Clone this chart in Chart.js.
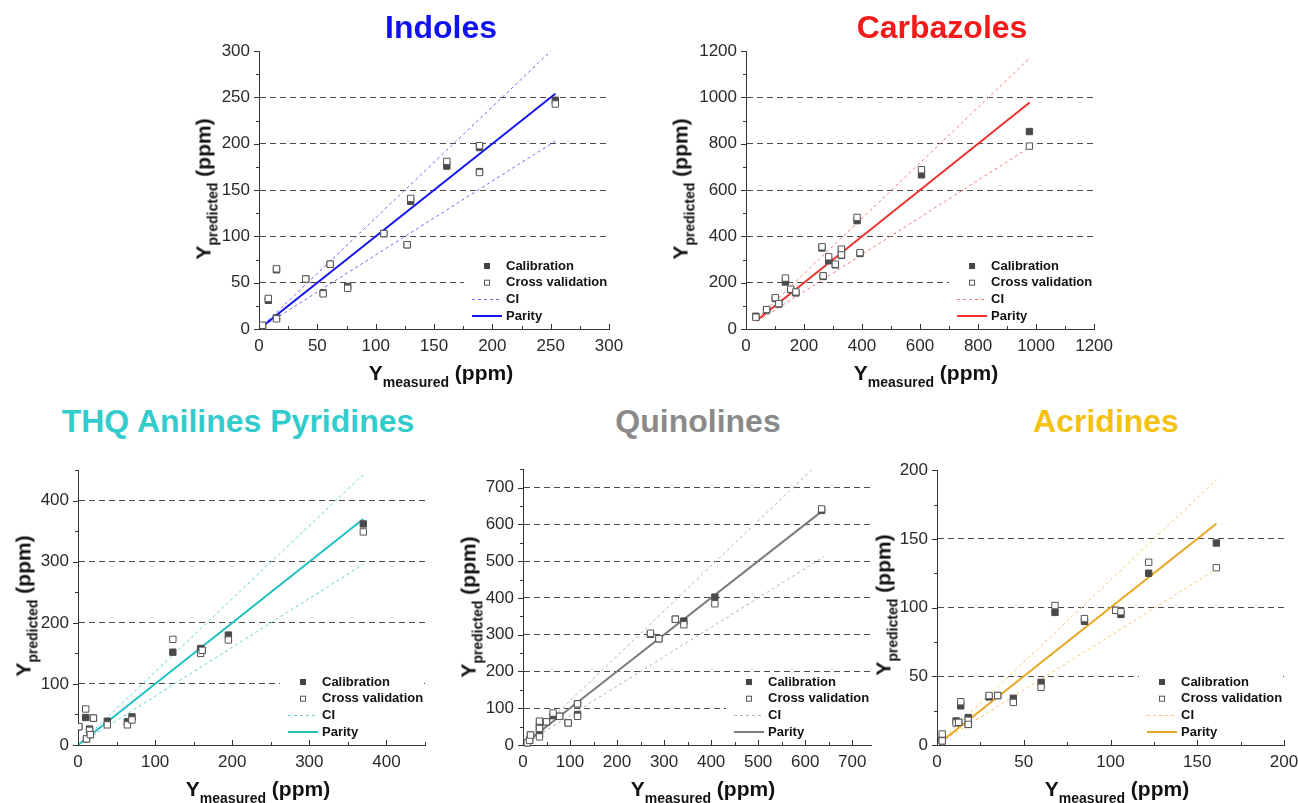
<!DOCTYPE html>
<html lang="en">
<head>
<meta charset="UTF-8" />
<title>Calibration vs cross validation</title>
<script src="https://cdn.jsdelivr.net/npm/chart.js"></script>
<style>
  html, body {
    margin: 0;
    padding: 0;
    width: 1298px;
    height: 803px;
    overflow: hidden;
    background: #fff;
    font-family: "Liberation Sans", Arial, sans-serif;
  }
  canvas { position: absolute; }
  .title {
    position: absolute;
    font-size: 32px;
    font-weight: bold;
    line-height: 1;
    white-space: nowrap;
    transform: translateX(-50%);
  }
  .axt {
    position: absolute;
    font-size: 21px;
    font-weight: bold;
    line-height: 1;
    white-space: nowrap;
    color: #111;
  }
  .axt .sub { font-size: 14px; position: relative; top: 7px; }
  .xt { transform: translateX(-50%); }
  .yt { transform: translate(-50%, -50%) rotate(-90deg); }
</style>
</head>
<body>

<script>
// ---- Indoles ----
const indolesMeasured = [3, 8, 15, 15, 40, 55, 61, 76, 107, 127, 130, 161, 189, 189, 254];
const indolesCalibration = [3, 31, 64, 12, 54, 39, 70, 46, 103, 91, 138, 176, 196, 170, 247];
const indolesCrossVal = [4, 33, 65, 11, 54, 38, 70, 44, 103, 91, 141, 181, 198, 169, 243];
const indolesParity = [[0, 0], [254, 254]];
const indolesCiUpper = [[0, 0], [250, 300]];
const indolesCiLower = [[0, 0], [254, 203]];
const indolesTicks = [0, 50, 100, 150, 200, 250, 300];

// ---- Carbazoles ----
const carbMeasured = [34, 71, 101, 113, 136, 154, 172, 262, 266, 285, 308, 329, 329, 383, 393, 605, 977];
const carbCalibration = [55, 82, 132, 108, 203, 170, 156, 350, 227, 295, 277, 340, 318, 468, 326, 666, 853];
const carbCrossVal = [51, 84, 135, 110, 220, 172, 160, 355, 230, 312, 280, 345, 320, 482, 330, 688, 790];
const carbParity = [[38, 38], [978, 978]];
const carbCiUpper = [[38, 45], [978, 1170]];
const carbCiLower = [[38, 32], [978, 785]];
const carbTicks = [0, 200, 400, 600, 800, 1000, 1200];

// ---- THQ Anilines Pyridines ----
const thqMeasured = [1, 10, 11, 15, 16, 20, 38, 64, 70, 123, 159, 161, 195, 370];
const thqCalibration = [30, 45, 10, 26, 17, 44, 39, 38, 46, 152, 158, 155, 180, 362];
const thqCrossVal = [30, 59, 10, 24, 17, 44, 33, 33, 41, 173, 150, 155, 172, 349];
const thqParity = [[0, 0], [370, 370]];
const thqCiUpper = [[0, 0], [370, 443]];
const thqCiLower = [[0, 0], [370, 296]];
const thqTicks = [0, 100, 200, 300, 400];

// ---- Quinolines ----
const quinMeasured = [9, 14, 16, 35, 35, 35, 50, 64, 78, 96, 116, 116, 271, 289, 324, 342, 408, 635];
const quinCalibration = [6, 13, 27, 31, 45, 56, 63, 80, 78, 60, 83, 112, 301, 289, 342, 337, 402, 638];
const quinCrossVal = [6, 13, 27, 22, 45, 65, 63, 87, 78, 60, 78, 112, 304, 289, 342, 327, 384, 642];
const quinParity = [[10, 10], [638, 638]];
const quinCiUpper = [[10, 10], [615, 750]];
const quinCiLower = [[10, 8], [640, 512]];
const quinTicks = [0, 100, 200, 300, 400, 500, 600, 700];

// ---- Acridines ----
const acrMeasured = [3, 3, 11, 12.5, 13.7, 18, 18, 30, 35, 44, 60, 68, 85, 103, 106, 122, 161];
const acrCalibration = [4.5, 3, 17.5, 16.5, 28.5, 20, 15, 35, 36, 34, 45.6, 96.5, 90, 98, 95, 125, 147];
const acrCrossVal = [8, 3, 16, 16.5, 31.5, 18, 15, 36, 36, 31, 42, 101.5, 92, 98, 97, 133, 129];
const acrParity = [[2, 2], [161, 161]];
const acrCiUpper = [[2, 3], [161, 193]];
const acrCiLower = [[2, 2], [161, 128]];
const acrTicks = [0, 50, 100, 150, 200];

const legendLabels = ["Calibration", "Cross validation", "CI", "Parity"];

const FONT = '"Liberation Sans", Arial, sans-serif';

const panels = [
  {
    title: "Indoles", titleColor: "#1010f5", titleX: 441, titleTop: 11,
    area: { left: 259, right: 609, top: 47, bottom: 329 },
    xMax: 300, yMax: 300, xTicks: indolesTicks, yTicks: indolesTicks, major: 50, minor: 25,
    measured: indolesMeasured, cal: indolesCalibration, cv: indolesCrossVal,
    parity: indolesParity, ciUp: indolesCiUpper, ciLo: indolesCiLower,
    color: "#1414f0", ciColor: "#6a6af8",
    xLabel: { x: 441, top: 362 }, yLabel: { x: 203, y: 189 }
  },
  {
    title: "Carbazoles", titleColor: "#f41a1a", titleX: 942, titleTop: 11,
    area: { left: 746, right: 1095, top: 47, bottom: 329 },
    xMax: 1200, yMax: 1200, xTicks: carbTicks, yTicks: carbTicks, major: 200, minor: 100,
    measured: carbMeasured, cal: carbCalibration, cv: carbCrossVal,
    parity: carbParity, ciUp: carbCiUpper, ciLo: carbCiLower,
    color: "#ee3030", ciColor: "#f47a7a",
    xLabel: { x: 926, top: 362 }, yLabel: { x: 680, y: 189 }
  },
  {
    title: "THQ Anilines Pyridines", titleColor: "#33cccc", titleX: 238, titleTop: 405,
    area: { left: 78, right: 425, top: 466, bottom: 745 },
    xMax: 450, yMax: 450, xTicks: thqTicks, yTicks: thqTicks, major: 100, minor: 50,
    measured: thqMeasured, cal: thqCalibration, cv: thqCrossVal,
    parity: thqParity, ciUp: thqCiUpper, ciLo: thqCiLower,
    color: "#1fc0c0", ciColor: "#5cd5d5",
    xLabel: { x: 258, top: 778 }, yLabel: { x: 23, y: 606 }
  },
  {
    title: "Quinolines", titleColor: "#8a8a8a", titleX: 698, titleTop: 405,
    area: { left: 523, right: 871, top: 465, bottom: 745 },
    xMax: 740, yMax: 750, xTicks: quinTicks, yTicks: quinTicks, major: 100, minor: 50,
    measured: quinMeasured, cal: quinCalibration, cv: quinCrossVal,
    parity: quinParity, ciUp: quinCiUpper, ciLo: quinCiLower,
    color: "#7c7c7c", ciColor: "#b2b2b2",
    xLabel: { x: 703, top: 778 }, yLabel: { x: 468, y: 607 }
  },
  {
    title: "Acridines", titleColor: "#f5c211", titleX: 1106, titleTop: 405,
    area: { left: 937, right: 1284, top: 466, bottom: 745 },
    xMax: 200, yMax: 200, xTicks: acrTicks, yTicks: acrTicks, major: 50, minor: 25,
    measured: acrMeasured, cal: acrCalibration, cv: acrCrossVal,
    parity: acrParity, ciUp: acrCiUpper, ciLo: acrCiLower,
    color: "#e8a61e", ciColor: "#f3c56a",
    xLabel: { x: 1117, top: 778 }, yLabel: { x: 883, y: 605 }
  }
];

const PAD_L = 70, PAD_T = 15, PAD_R = 25, PAD_B = 40;

function addText(cls, html, style) {
  const d = document.createElement("div");
  d.className = cls;
  d.innerHTML = html;
  Object.assign(d.style, style);
  document.body.appendChild(d);
}

// legend + minor/major tick marks
function panelPlugin(p) {
  return {
    id: "panelExtras",
    beforeDatasetsDraw(chart) {
      const a = chart.chartArea, ctx = chart.ctx;
      const tx = a.right - 103, y0 = a.bottom - 63;
      ctx.save();
      ctx.fillStyle = "#fff";
      ctx.fillRect(tx - 42, y0 - 9, a.right - (tx - 42) - 1, 4 * 16.7 + 2);
      ctx.restore();
    },
    afterDraw(chart) {
      const a = chart.chartArea, ctx = chart.ctx;
      const xs = chart.scales.x, ys = chart.scales.y;
      ctx.save();
      ctx.strokeStyle = "#333";
      ctx.lineWidth = 1;
      ctx.beginPath();
      for (let v = 0; v <= xs.max + 1e-9; v += p.minor) {
        const px = Math.round(xs.getPixelForValue(v)) + 0.5;
        const len = v % p.major === 0 ? 5 : 3;
        ctx.moveTo(px, a.bottom);
        ctx.lineTo(px, a.bottom - len);
      }
      for (let v = 0; v <= ys.max + 1e-9; v += p.minor) {
        const py = Math.round(ys.getPixelForValue(v)) + 0.5;
        const len = v % p.major === 0 ? 5 : 3;
        ctx.moveTo(a.left, py);
        ctx.lineTo(a.left - len, py);
      }
      ctx.stroke();

      // legend
      const tx = a.right - 103, y0 = a.bottom - 63, dy = 16.7;
      ctx.font = "bold 13px " + FONT;
      ctx.textBaseline = "middle";
      ctx.fillStyle = "#111";
      legendLabels.forEach((t, i) => ctx.fillText(t, tx, y0 + i * dy));
      ctx.fillStyle = "#444";
      ctx.fillRect(tx - 22, y0 - 3, 6, 6);
      ctx.strokeStyle = "#555";
      ctx.strokeRect(tx - 21.5, y0 + dy - 2.5, 5, 5);
      ctx.strokeStyle = p.ciColor;
      ctx.setLineDash([3, 3]);
      ctx.beginPath();
      ctx.moveTo(tx - 34, Math.round(y0 + 2 * dy) + 0.5);
      ctx.lineTo(tx - 4, Math.round(y0 + 2 * dy) + 0.5);
      ctx.stroke();
      ctx.setLineDash([]);
      ctx.strokeStyle = p.color;
      ctx.lineWidth = 2;
      ctx.beginPath();
      ctx.moveTo(tx - 34, Math.round(y0 + 3 * dy));
      ctx.lineTo(tx - 4, Math.round(y0 + 3 * dy));
      ctx.stroke();
      ctx.restore();
    }
  };
}

function scaleOpts(max, ticks, isY) {
  return {
    type: "linear",
    min: 0,
    max: max,
    afterBuildTicks: (s) => { s.ticks = ticks.map((v) => ({ value: v })); },
    afterFit: (s) => { if (isY) s.width = PAD_L; else s.height = PAD_B; },
    grid: isY
      ? {
          drawTicks: false,
          lineWidth: 1,
          color: (c) => (c.tick && c.tick.value > 0 && c.tick.value < max ? "#4a4a4a" : "rgba(0,0,0,0)")
        }
      : { display: false, drawTicks: false },
    border: { display: true, color: "#333", width: 1, dash: isY ? [6, 4] : [] },
    ticks: {
      padding: isY ? 9 : 7,
      color: "#2a2a2a",
      font: { family: FONT, size: 17 },
      callback: (v) => String(v)
    }
  };
}

panels.forEach((p) => {
  const a = p.area;
  const w = a.right - a.left + PAD_L + PAD_R;
  const h = a.bottom - a.top + PAD_T + PAD_B;
  const canvas = document.createElement("canvas");
  canvas.width = w;
  canvas.height = h;
  canvas.style.left = a.left - PAD_L + "px";
  canvas.style.top = a.top - PAD_T + "px";
  canvas.style.width = w + "px";
  canvas.style.height = h + "px";
  document.body.appendChild(canvas);

  addText("title", p.title, { left: p.titleX + "px", top: p.titleTop + "px", color: p.titleColor });
  addText("axt xt", 'Y<span class="sub">measured</span> (ppm)', { left: p.xLabel.x + "px", top: p.xLabel.top + "px" });
  addText("axt yt", 'Y<span class="sub">predicted</span> (ppm)', { left: p.yLabel.x + "px", top: p.yLabel.y + "px" });

  const pts = (ys) => p.measured.map((x, i) => ({ x: x, y: ys[i] }));
  const line = (arr) => arr.map((q) => ({ x: q[0], y: q[1] }));
  const pointClip = { left: 0, top: false, right: false, bottom: false };

  new Chart(canvas, {
    type: "scatter",
    data: {
      datasets: [
        {
          label: "Cross validation", data: pts(p.cv), order: 0, clip: pointClip,
          pointStyle: "rect", pointRadius: 4.5, backgroundColor: "#fff", borderColor: "#555", borderWidth: 1
        },
        {
          label: "Calibration", data: pts(p.cal), order: 1, clip: pointClip,
          pointStyle: "rect", pointRadius: 4.5, backgroundColor: "#4a4a4a", borderColor: "#4a4a4a", borderWidth: 1
        },
        {
          label: "Parity", data: line(p.parity), order: 2, showLine: true,
          pointRadius: 0, borderColor: p.color, borderWidth: 2
        },
        {
          label: "CI", data: line(p.ciUp), order: 3, showLine: true,
          pointRadius: 0, borderColor: p.ciColor, borderWidth: 1, borderDash: [3, 3]
        },
        {
          label: "CI lower", data: line(p.ciLo), order: 4, showLine: true,
          pointRadius: 0, borderColor: p.ciColor, borderWidth: 1, borderDash: [3, 3]
        }
      ]
    },
    options: {
      responsive: false,
      animation: false,
      events: [],
      layout: { padding: { left: 0, top: PAD_T, right: PAD_R, bottom: 0 } },
      plugins: { legend: { display: false }, tooltip: { enabled: false } },
      scales: {
        x: scaleOpts(p.xMax, p.xTicks, false),
        y: scaleOpts(p.yMax, p.yTicks, true)
      }
    },
    plugins: [panelPlugin(p)]
  });
});
</script>
</body>
</html>
